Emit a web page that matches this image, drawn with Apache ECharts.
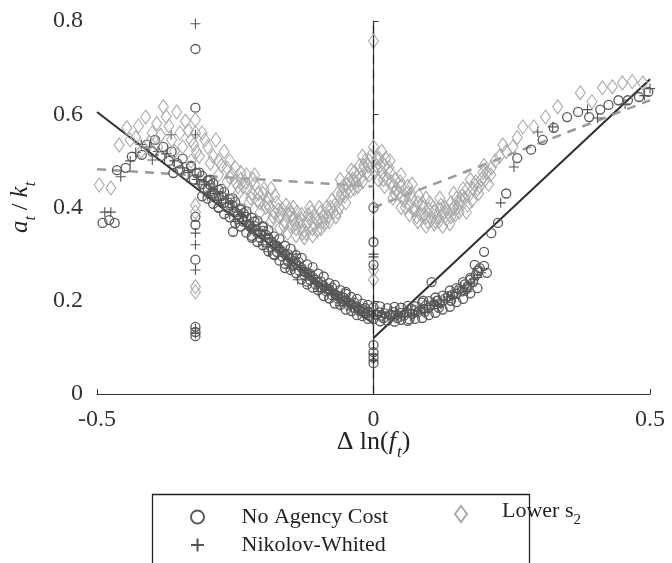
<!DOCTYPE html>
<html>
<head>
<meta charset="utf-8">
<script src="https://cdn.jsdelivr.net/npm/echarts@6/dist/echarts.min.js"></script>
<style>
  html, body { margin: 0; padding: 0; background: #fff; }
  #chart { width: 672px; height: 563px; }
</style>
</head>
<body>
<div id="chart"></div>
<script>
// tick values
let xTicks = [-0.5, 0, 0.5];
let yTicks = [0, 0.2, 0.4, 0.6, 0.8];

// No Agency Cost (circles)
let noAgency = [
  [-0.49, 0.367], [-0.478, 0.373], [-0.468, 0.367],
  [-0.464, 0.48], [-0.448, 0.485], [-0.437, 0.509], [-0.419, 0.513],
  [-0.362, 0.474], [-0.254, 0.348], [-0.179, 0.298],
  [-0.322, 0.74], [-0.322, 0.614], [-0.322, 0.38], [-0.322, 0.363], [-0.322, 0.288],
  [-0.322, 0.144], [-0.322, 0.133], [-0.322, 0.124],
  [0, 0.40], [0, 0.326], [0, 0.277], [0, 0.105], [0, 0.09], [0, 0.078], [0, 0.066],
  [-0.41, 0.535], [-0.40, 0.52], [-0.395, 0.545], [-0.385, 0.51], [-0.38, 0.53], [-0.37, 0.50],
  [-0.365, 0.52], [-0.355, 0.495], [-0.35, 0.48], [-0.345, 0.505], [-0.34, 0.47], [-0.33, 0.49],
  [-0.325, 0.46], [-0.315, 0.475], [-0.31, 0.45], [-0.30, 0.44], [-0.295, 0.46], [-0.29, 0.43],
  [-0.28, 0.425], [-0.275, 0.44], [-0.27, 0.41], [-0.26, 0.405], [-0.255, 0.42], [-0.25, 0.39],
  [-0.245, 0.375], [-0.24, 0.395], [-0.235, 0.37], [-0.23, 0.38], [-0.225, 0.36], [-0.22, 0.355],
  [-0.215, 0.37], [-0.21, 0.345], [-0.205, 0.335], [-0.20, 0.35], [-0.195, 0.325], [-0.19, 0.335],
  [-0.185, 0.315], [-0.18, 0.32], [-0.175, 0.305], [-0.17, 0.31], [-0.165, 0.295], [-0.16, 0.30],
  [-0.155, 0.285], [-0.15, 0.29], [-0.145, 0.275], [-0.14, 0.28], [-0.135, 0.265], [-0.13, 0.27],
  [-0.125, 0.255], [-0.12, 0.26], [-0.115, 0.245], [-0.11, 0.25], [-0.105, 0.235], [-0.10, 0.24],
  [-0.095, 0.228], [-0.09, 0.232], [-0.085, 0.22], [-0.08, 0.225], [-0.075, 0.212], [-0.07, 0.215],
  [-0.065, 0.205], [-0.06, 0.21], [-0.055, 0.198], [-0.05, 0.2], [-0.045, 0.19], [-0.04, 0.193],
  [-0.035, 0.185], [-0.03, 0.188], [-0.025, 0.178], [-0.02, 0.182], [-0.015, 0.172], [-0.01, 0.176],
  [-0.005, 0.168], [0.005, 0.17], [0.01, 0.175], [0.015, 0.168], [0.02, 0.173], [0.03, 0.17],
  [0.035, 0.176], [0.04, 0.168], [0.05, 0.174], [0.055, 0.168], [0.06, 0.175], [0.07, 0.172],
  [0.075, 0.18], [0.08, 0.175], [0.09, 0.182], [0.095, 0.19], [0.10, 0.185], [0.11, 0.192],
  [0.115, 0.2], [0.12, 0.195], [0.13, 0.205], [0.135, 0.21], [0.14, 0.2], [0.15, 0.215],
  [0.155, 0.225], [0.16, 0.22], [0.165, 0.235], [0.17, 0.23], [0.175, 0.245], [0.18, 0.24],
  [0.185, 0.255], [0.19, 0.265], [0.2, 0.275], [0.205, 0.26],
  [-0.28, 0.40], [-0.22, 0.335], [-0.16, 0.27], [-0.12, 0.235], [-0.08, 0.205], [-0.2, 0.36],
  [-0.05, 0.215], [0.065, 0.16], [0.09, 0.2], [0.105, 0.24],
  [-0.33, 0.487], [-0.32, 0.474], [-0.31, 0.468], [-0.30, 0.458], [-0.29, 0.452], [-0.28, 0.438],
  [-0.27, 0.433], [-0.26, 0.418], [-0.25, 0.412], [-0.24, 0.398], [-0.23, 0.392], [-0.22, 0.378],
  [-0.21, 0.372], [-0.20, 0.358], [-0.19, 0.352], [-0.18, 0.338], [-0.17, 0.333], [-0.16, 0.318],
  [-0.15, 0.312], [-0.14, 0.298], [-0.13, 0.292], [-0.12, 0.278], [-0.11, 0.272], [-0.10, 0.258],
  [-0.09, 0.252], [-0.08, 0.238], [-0.07, 0.234], [-0.06, 0.223], [-0.05, 0.219], [-0.04, 0.208],
  [-0.03, 0.204], [-0.02, 0.194], [-0.01, 0.191], [0.0, 0.186], [0.012, 0.188], [0.025, 0.184],
  [0.038, 0.187], [0.05, 0.185], [0.062, 0.189], [0.075, 0.188], [0.088, 0.196], [0.1, 0.199],
  [0.112, 0.207], [0.125, 0.211], [0.138, 0.222], [0.15, 0.227], [0.162, 0.24], [0.175, 0.249],
  [0.188, 0.264],
  [-0.31, 0.424], [-0.30, 0.419], [-0.29, 0.408], [-0.28, 0.399], [-0.27, 0.386], [-0.26, 0.379],
  [-0.25, 0.366], [-0.24, 0.359], [-0.23, 0.346], [-0.22, 0.339], [-0.21, 0.326], [-0.20, 0.319],
  [-0.19, 0.306], [-0.18, 0.299], [-0.17, 0.286], [-0.16, 0.279], [-0.15, 0.266], [-0.14, 0.259],
  [-0.13, 0.246], [-0.12, 0.241], [-0.11, 0.228], [-0.10, 0.223], [-0.09, 0.21], [-0.08, 0.205],
  [-0.07, 0.194], [-0.06, 0.191], [-0.05, 0.181], [-0.04, 0.178], [-0.03, 0.169], [-0.02, 0.167],
  [-0.01, 0.161], [0.0, 0.161], [0.012, 0.156], [0.025, 0.157], [0.038, 0.155], [0.05, 0.159],
  [0.062, 0.157], [0.075, 0.161], [0.088, 0.163], [0.1, 0.169], [0.112, 0.174], [0.125, 0.181],
  [0.138, 0.187], [0.15, 0.197], [0.162, 0.204], [0.175, 0.216], [0.188, 0.227],
  [-0.305, 0.44], [-0.285, 0.42], [-0.265, 0.4], [-0.245, 0.385], [-0.225, 0.365], [-0.205, 0.345],
  [-0.185, 0.325], [-0.165, 0.305], [-0.145, 0.285], [-0.125, 0.262], [-0.105, 0.245], [-0.085, 0.226],
  [-0.065, 0.21], [-0.045, 0.197], [-0.025, 0.181], [-0.005, 0.175], [0.018, 0.163], [0.043, 0.163],
  [0.068, 0.183], [0.093, 0.176], [0.118, 0.185], [0.143, 0.213], [0.168, 0.225],
  [-0.295, 0.448], [-0.275, 0.425], [-0.255, 0.405], [-0.235, 0.388], [-0.215, 0.36], [-0.195, 0.342],
  [-0.175, 0.318], [-0.155, 0.3], [-0.135, 0.283], [-0.115, 0.258], [-0.095, 0.241], [-0.075, 0.228],
  [-0.055, 0.207], [-0.035, 0.196], [-0.015, 0.184],
  [0.183, 0.277], [0.192, 0.27], [0.2, 0.305], [0.213, 0.345], [0.225, 0.367], [0.24, 0.43],
  [0.26, 0.506], [0.285, 0.524], [0.306, 0.545], [0.326, 0.571], [0.35, 0.594], [0.37, 0.605],
  [0.39, 0.594], [0.41, 0.61], [0.425, 0.62], [0.443, 0.63], [0.46, 0.63], [0.48, 0.637], [0.497, 0.648]
];

// Nikolov-Whited (plus signs)
let nikolov = [
  [-0.486, 0.39], [-0.475, 0.39], [-0.457, 0.466], [-0.44, 0.50], [-0.43, 0.518], [-0.42, 0.535],
  [-0.40, 0.502], [-0.366, 0.556], [-0.137, 0.245],
  [-0.322, 0.794], [-0.322, 0.556], [-0.322, 0.345], [-0.322, 0.32], [-0.322, 0.266],
  [-0.322, 0.14], [-0.322, 0.13],
  [0, 0.30], [0, 0.294], [0, 0.085], [0, 0.072],
  [-0.405, 0.53], [-0.39, 0.52], [-0.375, 0.515], [-0.36, 0.50], [-0.345, 0.485], [-0.335, 0.475],
  [-0.32, 0.46], [-0.305, 0.455], [-0.29, 0.44], [-0.28, 0.415], [-0.265, 0.42], [-0.255, 0.40],
  [-0.24, 0.385], [-0.23, 0.37], [-0.218, 0.36], [-0.205, 0.35], [-0.195, 0.34], [-0.182, 0.325],
  [-0.17, 0.315], [-0.158, 0.30], [-0.146, 0.285], [-0.134, 0.275], [-0.122, 0.26], [-0.11, 0.245],
  [-0.1, 0.23], [-0.088, 0.225], [-0.076, 0.215], [-0.064, 0.205], [-0.052, 0.195], [-0.04, 0.185],
  [-0.028, 0.18], [-0.016, 0.175], [-0.004, 0.172], [0.008, 0.168], [0.02, 0.165], [0.032, 0.172],
  [0.044, 0.17], [0.056, 0.172], [0.068, 0.168], [0.08, 0.178], [0.092, 0.175], [0.104, 0.19],
  [0.116, 0.188], [0.128, 0.2], [0.14, 0.21], [0.152, 0.218], [0.164, 0.228], [0.176, 0.238],
  [0.188, 0.25], [-0.3, 0.425], [-0.25, 0.37], [-0.2, 0.32], [-0.15, 0.27], [-0.1, 0.22],
  [-0.06, 0.19], [-0.19, 0.305], [-0.14, 0.3], [-0.26, 0.385],
  [-0.315, 0.45], [-0.295, 0.435], [-0.285, 0.43], [-0.275, 0.41], [-0.245, 0.39], [-0.235, 0.38],
  [-0.225, 0.355], [-0.215, 0.35], [-0.185, 0.335], [-0.175, 0.32], [-0.165, 0.305], [-0.155, 0.29],
  [-0.125, 0.265], [-0.115, 0.255], [-0.105, 0.24], [-0.095, 0.23], [-0.085, 0.23], [-0.075, 0.222],
  [-0.065, 0.21], [-0.045, 0.2], [-0.035, 0.19], [-0.025, 0.185], [-0.01, 0.178], [0.0, 0.17],
  [0.015, 0.175], [0.028, 0.162], [0.04, 0.178], [0.05, 0.165], [0.062, 0.18], [0.074, 0.172],
  [0.086, 0.185], [0.098, 0.182], [0.11, 0.198], [0.122, 0.192], [0.134, 0.208], [0.146, 0.205],
  [0.158, 0.23], [0.17, 0.22], [0.182, 0.245], [0.195, 0.26],
  [0.23, 0.41], [0.254, 0.487], [0.297, 0.562], [0.324, 0.573], [0.387, 0.61], [0.405, 0.592],
  [0.455, 0.622], [0.49, 0.64], [0.5, 0.655]
];

// Lower s2 (diamonds)
let lowerS2 = [
  [-0.496, 0.448], [-0.475, 0.442], [-0.46, 0.534], [-0.446, 0.571], [-0.43, 0.55], [-0.412, 0.594],
  [-0.40, 0.56], [-0.392, 0.58], [-0.38, 0.616], [-0.37, 0.575], [-0.356, 0.605], [-0.35, 0.56],
  [-0.34, 0.585], [-0.33, 0.545], [-0.31, 0.56], [-0.30, 0.53], [-0.29, 0.51], [-0.285, 0.545],
  [-0.275, 0.49], [-0.27, 0.52], [-0.26, 0.50], [-0.255, 0.47], [-0.25, 0.485], [-0.24, 0.46],
  [-0.235, 0.445], [-0.23, 0.47], [-0.22, 0.43], [-0.215, 0.45], [-0.21, 0.415], [-0.20, 0.43],
  [-0.195, 0.40], [-0.19, 0.42], [-0.18, 0.39], [-0.175, 0.41], [-0.17, 0.38], [-0.165, 0.395],
  [-0.16, 0.37], [-0.155, 0.385], [-0.15, 0.36], [-0.145, 0.375], [-0.14, 0.355], [-0.135, 0.37],
  [-0.13, 0.36], [-0.125, 0.35], [-0.12, 0.365], [-0.115, 0.375], [-0.11, 0.355], [-0.105, 0.38],
  [-0.10, 0.37], [-0.095, 0.39], [-0.09, 0.38], [-0.085, 0.40], [-0.08, 0.39], [-0.075, 0.415],
  [-0.07, 0.405], [-0.065, 0.43], [-0.06, 0.42], [-0.055, 0.445], [-0.05, 0.435], [-0.045, 0.46],
  [-0.04, 0.45], [-0.035, 0.475], [-0.03, 0.465], [-0.025, 0.49], [-0.02, 0.48], [-0.015, 0.50],
  [-0.01, 0.49], [-0.005, 0.51], [0, 0.53], [0, 0.757], [0.005, 0.49], [0.01, 0.505], [0.015, 0.475],
  [0.02, 0.49], [0.025, 0.46], [0.03, 0.475], [0.035, 0.445], [0.04, 0.46], [0.045, 0.43],
  [0.05, 0.445], [0.055, 0.415], [0.06, 0.43], [0.065, 0.405], [0.07, 0.42], [0.075, 0.395],
  [0.08, 0.41], [0.085, 0.385], [0.09, 0.40], [0.095, 0.38], [0.10, 0.395], [0.105, 0.375],
  [0.11, 0.39], [0.115, 0.38], [0.12, 0.395], [0.125, 0.385], [0.13, 0.40], [0.135, 0.39],
  [0.14, 0.41], [0.145, 0.40], [0.15, 0.42], [0.155, 0.41], [0.16, 0.425], [0.165, 0.42],
  [0.17, 0.44], [0.18, 0.44], [0.185, 0.455], [0.195, 0.46], [0.205, 0.475], [0.213, 0.485],
  [0.22, 0.50], [0.234, 0.534], [0.252, 0.53], [0.27, 0.573], [0.29, 0.573], [0.311, 0.594],
  [0.333, 0.616], [0.374, 0.646], [0.395, 0.627], [0.414, 0.657], [0.432, 0.659], [0.45, 0.667],
  [0.468, 0.67], [0.487, 0.667],
  [-0.322, 0.588], [-0.322, 0.56], [-0.322, 0.405], [-0.322, 0.39], [-0.322, 0.23], [-0.322, 0.219],
  [0, 0.40], [0, 0.266], [0, 0.245],
  [-0.42, 0.52], [-0.39, 0.53], [-0.36, 0.52], [-0.33, 0.50], [-0.32, 0.52], [-0.28, 0.47],
  [-0.265, 0.455], [-0.245, 0.43], [-0.225, 0.41], [-0.205, 0.39], [-0.185, 0.37], [-0.17, 0.355],
  [-0.155, 0.345], [-0.14, 0.34], [-0.125, 0.335], [-0.11, 0.34], [-0.095, 0.355], [-0.08, 0.37],
  [-0.065, 0.39], [-0.05, 0.41], [-0.035, 0.44], [-0.02, 0.455], [-0.008, 0.47], [0.008, 0.46],
  [0.02, 0.445], [0.035, 0.42], [0.05, 0.40], [0.065, 0.385], [0.08, 0.37], [0.095, 0.36],
  [0.11, 0.365], [0.125, 0.36], [0.14, 0.38], [0.155, 0.39], [0.17, 0.405], [0.19, 0.43],
  [-0.215, 0.47], [-0.185, 0.44], [-0.145, 0.40], [-0.115, 0.40], [-0.13, 0.385], [-0.06, 0.46],
  [-0.04, 0.48], [-0.02, 0.51], [0.015, 0.52], [0.03, 0.50], [0.05, 0.47], [0.07, 0.45],
  [0.095, 0.42], [0.12, 0.42], [0.145, 0.43], [0.175, 0.46],
  [-0.44, 0.545], [-0.425, 0.575], [-0.405, 0.54], [-0.385, 0.555], [-0.375, 0.595], [-0.365, 0.545],
  [-0.345, 0.53], [-0.335, 0.565], [-0.325, 0.535], [-0.315, 0.51], [-0.305, 0.545], [-0.295, 0.495],
  [-0.28, 0.50], [-0.265, 0.485], [-0.25, 0.455], [-0.24, 0.475], [-0.228, 0.44], [-0.218, 0.46],
  [-0.205, 0.41], [-0.198, 0.44], [-0.188, 0.40], [-0.178, 0.425], [-0.168, 0.385], [-0.158, 0.405],
  [-0.148, 0.385], [-0.138, 0.39], [-0.128, 0.345], [-0.118, 0.385], [-0.108, 0.365], [-0.098, 0.40],
  [-0.088, 0.365], [-0.078, 0.40], [-0.068, 0.38], [-0.058, 0.43], [-0.048, 0.45], [-0.038, 0.46],
  [-0.028, 0.445], [-0.018, 0.49], [-0.008, 0.5], [0.002, 0.475], [0.012, 0.49], [0.022, 0.505],
  [0.032, 0.455], [0.042, 0.44], [0.052, 0.425], [0.062, 0.445], [0.072, 0.395], [0.082, 0.425],
  [0.092, 0.385], [0.102, 0.41], [0.112, 0.37], [0.122, 0.405], [0.132, 0.375], [0.142, 0.395],
  [0.152, 0.40], [0.162, 0.44], [0.172, 0.425], [0.182, 0.45], [0.192, 0.445], [0.202, 0.46],
  [0.212, 0.47], [0.2, 0.49], [0.228, 0.51], [0.24, 0.52], [0.26, 0.55],
  [-0.26, 0.465], [-0.245, 0.445], [-0.232, 0.455], [-0.222, 0.42], [-0.208, 0.43], [-0.192, 0.41],
  [-0.182, 0.38], [-0.172, 0.395], [-0.162, 0.36], [-0.152, 0.395], [-0.142, 0.365], [-0.132, 0.375],
  [-0.122, 0.345], [-0.112, 0.39], [-0.102, 0.35], [-0.092, 0.37], [-0.082, 0.38], [-0.072, 0.39],
  [-0.062, 0.40], [-0.052, 0.425], [-0.042, 0.435], [-0.032, 0.455], [-0.022, 0.465], [-0.012, 0.475],
  [0.006, 0.505], [0.018, 0.46], [0.028, 0.485], [0.038, 0.43], [0.048, 0.455], [0.058, 0.40],
  [0.068, 0.43], [0.078, 0.38], [0.088, 0.41], [0.098, 0.37], [0.108, 0.40], [0.118, 0.37],
  [0.128, 0.39], [0.138, 0.365], [0.148, 0.385], [0.158, 0.415], [0.168, 0.39], [0.178, 0.415],
  [0.188, 0.44], [0.198, 0.475], [0.208, 0.45]
];

// fitted lines
let solidLeft = [[-0.5, 0.605], [0, 0.15]];
let solidRight = [[0, 0.12], [0.5, 0.675]];
let dashLeft = [[-0.5, 0.482], [0, 0.445]];
let dashRight = [[0, 0.40], [0.5, 0.63]];
let zeroLine = [[0, 0], [0, 0.8]];

let serif = '"Liberation Serif", "DejaVu Serif", serif';
let plusPath = 'path://M0,5L10,5M5,0L5,10';

let chart = echarts.init(document.getElementById('chart'));

function lineSeries(data, color, width, type) {
    return {
        type: 'line',
        data: data,
        symbol: 'none',
        silent: true,
        lineStyle: { color: color, width: width, type: type },
        z: 1
    };
}

function legendBox(name, left, top, textPad) {
    return {
        left: left,
        top: top,
        itemWidth: 24,
        itemHeight: 13,
        data: [name],
        textStyle: { fontFamily: serif, fontSize: 22, color: '#222', padding: [0, 0, 0, textPad] }
    };
}

let lowerLegend = legendBox('Lower s2', 449, 495, 30);
lowerLegend.itemWidth = 12;
lowerLegend.itemHeight = 16;
lowerLegend.formatter = function () { return '{n|Lower s}{s|2}'; };
lowerLegend.textStyle.rich = {
    n: { fontFamily: serif, fontSize: 22, color: '#222', verticalAlign: 'bottom', padding: [0, 0, 6, 0] },
    s: { fontFamily: serif, fontSize: 15, color: '#222', verticalAlign: 'bottom' }
};

let option = {
    animation: false,
    backgroundColor: '#fff',
    grid: { left: 93, right: 22, top: 21, bottom: 169, containLabel: false },
    xAxis: {
        type: 'value',
        min: xTicks[0],
        max: xTicks[xTicks.length - 1],
        interval: 0.5,
        splitLine: { show: false },
        axisLine: { lineStyle: { color: '#333', width: 1.2 } },
        axisTick: { inside: true, length: 5, lineStyle: { color: '#333' } },
        axisLabel: { fontFamily: serif, fontSize: 24, color: '#333', margin: 14 },
        name: '{n|\u0394 ln(}{i|f}{s|t}{n|)}',
        nameLocation: 'middle',
        nameGap: 35,
        nameMoveOverlap: false,
        nameTextStyle: {
            fontFamily: serif, fontSize: 26, color: '#222',
            rich: {
                n: { fontFamily: serif, fontSize: 26, color: '#222', verticalAlign: 'bottom', padding: [0, 0, 6, 0] },
                i: { fontFamily: serif, fontSize: 26, fontStyle: 'italic', color: '#222', verticalAlign: 'bottom', padding: [0, 1, 6, 0] },
                s: { fontFamily: serif, fontSize: 17, fontStyle: 'italic', color: '#222', verticalAlign: 'bottom' }
            }
        }
    },
    yAxis: {
        type: 'value',
        min: yTicks[0],
        max: yTicks[yTicks.length - 1],
        interval: 0.2,
        splitLine: { show: false },
        axisLine: { show: true, lineStyle: { color: '#333', width: 1.2 } },
        axisTick: { show: true, inside: true, length: 5, lineStyle: { color: '#333' } },
        axisLabel: { fontFamily: serif, fontSize: 24, color: '#333', margin: 14 },
        name: '{i|a}{s|t}{n| / }{i|k}{s|t}',
        nameLocation: 'middle',
        nameRotate: 90,
        nameGap: 58,
        nameTextStyle: {
            fontFamily: serif, fontSize: 24, color: '#222',
            rich: {
                n: { fontFamily: serif, fontSize: 24, color: '#222', verticalAlign: 'bottom', padding: [0, 0, 6, 0] },
                i: { fontFamily: serif, fontSize: 25, fontStyle: 'italic', color: '#222', verticalAlign: 'bottom', padding: [0, 0, 6, 0] },
                s: { fontFamily: serif, fontSize: 16, fontStyle: 'italic', color: '#222', verticalAlign: 'bottom' }
            }
        }
    },
    legend: [
        legendBox('No Agency Cost', 185, 501, 27),
        legendBox('Nikolov-Whited', 185, 529, 27),
        lowerLegend
    ],
    graphic: [
        {
            type: 'rect',
            left: 150,
            top: 492,
            shape: { width: 377, height: 100 },
            style: { fill: 'none', stroke: '#222', lineWidth: 1.3 },
            silent: true
        }
    ],
    series: [
        lineSeries(solidLeft, '#2e2e2e', 2, 'solid'),
        lineSeries(solidRight, '#2e2e2e', 2, 'solid'),
        lineSeries(dashLeft, '#9a9a9a', 2.5, [9, 7]),
        lineSeries(dashRight, '#9a9a9a', 2.5, [9, 7]),
        {
            name: 'No Agency Cost',
            type: 'scatter',
            data: noAgency,
            symbol: 'circle',
            symbolSize: 9,
            itemStyle: { color: 'rgba(0,0,0,0)', borderColor: '#5a5a5a', borderWidth: 1.3, opacity: 1 },
            z: 2
        },
        {
            name: 'Nikolov-Whited',
            type: 'scatter',
            data: nikolov,
            symbol: plusPath,
            symbolSize: 10,
            itemStyle: { color: 'rgba(0,0,0,0)', borderColor: '#555', borderWidth: 1.1, opacity: 1 },
            z: 3
        },
        {
            name: 'Lower s2',
            type: 'scatter',
            data: lowerS2,
            symbol: 'diamond',
            symbolSize: [10, 14],
            itemStyle: { color: 'rgba(0,0,0,0)', borderColor: '#a9a9a9', borderWidth: 1.1, opacity: 1 },
            z: 4
        },
        Object.assign(lineSeries(zeroLine, '#222', 1.2, [9, 6]), { z: 5 })
    ]
};

chart.setOption(option);
</script>
</body>
</html>
